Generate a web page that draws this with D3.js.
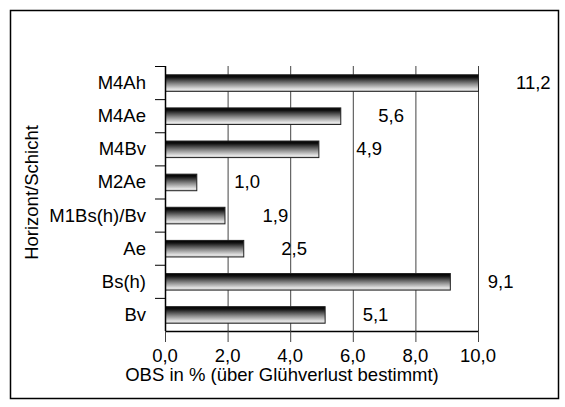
<!DOCTYPE html>
<html><head><meta charset="utf-8">
<script src="https://cdn.jsdelivr.net/npm/d3@7"></script>
<style>
html,body{margin:0;padding:0;background:#fff;}
svg{display:block;font-family:"Liberation Sans",Arial,sans-serif;}
</style></head>
<body>
<svg id="chart" width="565" height="407"></svg>
<script>
const categories = ["M4Ah","M4Ae","M4Bv","M2Ae","M1Bs(h)/Bv","Ae","Bs(h)","Bv"];
const values = [11.2, 5.6, 4.9, 1.0, 1.9, 2.5, 9.1, 5.1];
const valueLabels = ["11,2","5,6","4,9","1,0","1,9","2,5","9,1","5,1"];
const xTicks = [0, 2, 4, 6, 8, 10];
const xTickLabels = ["0,0","2,0","4,0","6,0","8,0","10,0"];
const xTitle = "OBS in % (über Glühverlust bestimmt)";
const yTitle = "Horizont/Schicht";

const svg = d3.select("#chart");
const fs = 18.5;
const m = {left:165, right:478, top:66, bottom:331};

svg.append("rect").attr("x",10.5).attr("y",10.5).attr("width",548).attr("height",388)
  .attr("fill","#fff").attr("stroke","#000").attr("stroke-width",1.5);

const x = d3.scaleLinear().domain([0,10]).range([m.left,m.right]);
const y = d3.scaleBand().domain(categories).range([m.top,m.bottom]).paddingInner(0.5).paddingOuter(0.25);

const defs = svg.append("defs");
const g = defs.append("linearGradient").attr("id","barGrad").attr("x1",0).attr("y1",0).attr("x2",0).attr("y2",1);
g.append("stop").attr("offset","0%").attr("stop-color","#000");
g.append("stop").attr("offset","15%").attr("stop-color","#111");
g.append("stop").attr("offset","55%").attr("stop-color","#8a8a8a");
g.append("stop").attr("offset","88%").attr("stop-color","#e6e6e6");
g.append("stop").attr("offset","100%").attr("stop-color","#bdbdbd");

// gridlines
svg.append("g").selectAll("line").data(xTicks.filter(d=>d>0)).join("line")
  .attr("x1",d=>x(d)+0.5).attr("x2",d=>x(d)+0.5)
  .attr("y1",m.top).attr("y2",m.bottom)
  .attr("stroke","#444").attr("stroke-width",1);

// bars
svg.append("g").selectAll("rect").data(categories).join("rect")
  .attr("x",x(0)+0.5)
  .attr("y",(d)=>y(d)+0.5)
  .attr("width",(d,i)=>x(Math.min(values[i],10))-x(0))
  .attr("height",y.bandwidth())
  .attr("fill","url(#barGrad)")
  .attr("stroke","#222").attr("stroke-width",1);

// value labels
svg.append("g").selectAll("text").data(categories).join("text")
  .attr("x",(d,i)=>x(Math.min(values[i],10))+38)
  .attr("y",d=>y(d)+y.bandwidth()/2)
  .attr("dy","0.35em")
  .attr("font-size",fs)
  .attr("fill","#000")
  .text((d,i)=>valueLabels[i]);

// y axis
const yAxisG = svg.append("g");
yAxisG.append("line").attr("x1",m.left+0.5).attr("x2",m.left+0.5).attr("y1",m.top).attr("y2",m.bottom).attr("stroke","#000").attr("stroke-width",1.5);
const bounds = d3.range(categories.length).map(i=>m.top + i*(m.bottom-m.top)/categories.length);
yAxisG.selectAll("line.tk").data(bounds).join("line").attr("class","tk")
  .attr("x1",m.left-10).attr("x2",m.left).attr("y1",d=>d+0.5).attr("y2",d=>d+0.5)
  .attr("stroke","#000").attr("stroke-width",1);
yAxisG.selectAll("text").data(categories).join("text")
  .attr("x",m.left-19).attr("y",d=>y(d)+y.bandwidth()/2).attr("dy","0.35em")
  .attr("text-anchor","end").attr("font-size",fs).text(d=>d);

// x axis
const xAxisG = svg.append("g");
xAxisG.append("line").attr("x1",m.left).attr("x2",m.right+1).attr("y1",m.bottom+0.5).attr("y2",m.bottom+0.5).attr("stroke","#000").attr("stroke-width",1.5);
xAxisG.selectAll("line.tk").data(xTicks).join("line").attr("class","tk")
  .attr("x1",d=>x(d)+0.5).attr("x2",d=>x(d)+0.5).attr("y1",m.bottom).attr("y2",m.bottom+11)
  .attr("stroke","#444").attr("stroke-width",1);
xAxisG.selectAll("text").data(xTicks).join("text")
  .attr("x",d=>x(d)).attr("y",m.bottom+25).attr("dy","0.35em")
  .attr("text-anchor","middle").attr("font-size",fs).text((d,i)=>xTickLabels[i]);

svg.append("text").attr("x",282).attr("y",m.bottom+44).attr("dy","0.35em")
  .attr("text-anchor","middle").attr("font-size",fs).text(xTitle);

svg.append("text").attr("transform",`translate(32,${(m.top+m.bottom)/2 - 6}) rotate(-90)`)
  .attr("dy","0.35em").attr("text-anchor","middle").attr("font-size",fs).text(yTitle);
</script>
</body></html>
